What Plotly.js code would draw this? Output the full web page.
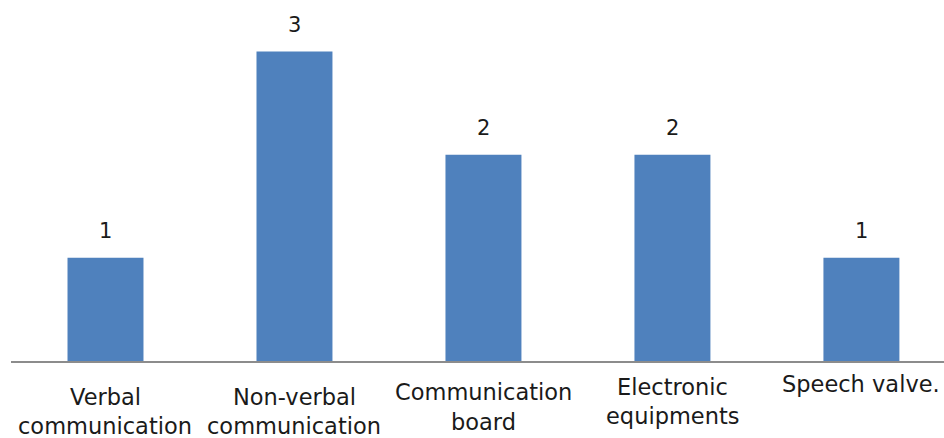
<!DOCTYPE html>
<html>
<head>
<meta charset="utf-8">
<script src="https://cdn.plot.ly/plotly-3.0.1.min.js"></script>
<style>html,body{margin:0;padding:0;background:#fff;}#chart{width:944px;height:438px;}</style>
</head>
<body>
<div id="chart"></div>
<script>
// Data
var categories = ["Verbal communication", "Non-verbal communication", "Communication board", "Electronic equipments", "Speech valve."];
var labelLines = [["Verbal", "communication"], ["Non-verbal", "communication"], ["Communication", "board"], ["Electronic", "equipments"], ["Speech valve."]];
var values = [1, 3, 2, 2, 1];

// Style: vertical offsets (px below the baseline) of each label line
var lineOffsets = [[36, 65], [36, 65], [31, 61], [26, 55], [23]];

var font = "DejaVu Sans, Verdana, sans-serif";
var annotations = [];
categories.forEach(function (c, i) {
  annotations.push({
    x: c, y: values[i], xref: "x", yref: "y",
    text: String(values[i]), showarrow: false,
    yanchor: "bottom", yshift: 13,
    font: {family: font, size: 21, color: "#1a1a1a"}
  });
  labelLines[i].forEach(function (ln, j) {
    annotations.push({
      x: c, y: 0, xref: "x", yref: "y",
      text: ln, showarrow: false, borderpad: 0,
      yanchor: "middle", yshift: -lineOffsets[i][j],
      font: {family: font, size: 22.5, color: "#1a1a1a"}
    });
  });
});

var trace = {
  type: "bar",
  x: categories,
  y: values,
  marker: {color: "#4F81BD"},
  hoverinfo: "skip"
};

var layout = {
  width: 944, height: 438,
  margin: {l: 11, r: 0, t: 0, b: 77, pad: 0},
  paper_bgcolor: "#fff", plot_bgcolor: "#fff",
  bargap: 0.598,
  showlegend: false,
  xaxis: {
    type: "category",
    range: [-0.5, 4.437],
    showticklabels: false, ticks: "",
    showline: true, linecolor: "#8c8c8c", linewidth: 1.5,
    showgrid: false, zeroline: false, fixedrange: true
  },
  yaxis: {
    range: [0, 3.5],
    visible: false, showgrid: false, zeroline: false, fixedrange: true
  },
  annotations: annotations
};

Plotly.newPlot("chart", [trace], layout, {displayModeBar: false, staticPlot: true});
</script>
</body>
</html>
